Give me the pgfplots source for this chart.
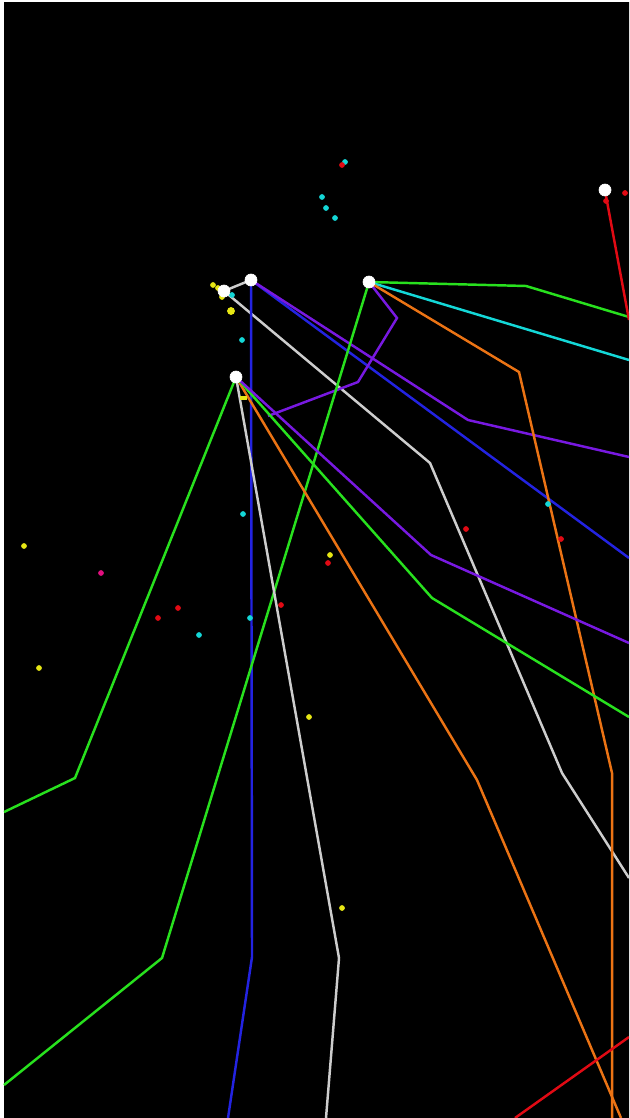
\documentclass[border=0pt]{standalone}
\usepackage{pgfplots}
\pgfplotsset{compat=1.18}
\definecolor{lgreen}{RGB}{40,225,30}
\definecolor{lcyan}{RGB}{20,215,215}
\definecolor{lorange}{RGB}{235,115,20}
\definecolor{lpurple}{RGB}{120,25,225}
\definecolor{lblue}{RGB}{35,35,225}
\definecolor{lgray}{RGB}{205,205,205}
\definecolor{lred}{RGB}{225,10,20}
\definecolor{lyellow}{RGB}{230,230,20}
\begin{document}
\begin{tikzpicture}
\begin{axis}[
  width=6.29cm, height=11.18cm, scale only axis,
  xmin=0, xmax=629, ymin=0, ymax=1118, y dir=reverse,
  hide axis, clip marker paths=true,
  every axis plot/.append style={line width=0.7pt, mark=none},
]
% page and black field
\addplot[fill=white, draw=none] coordinates {(0,0) (629,0) (629,1118) (0,1118)} -- cycle;
\addplot[fill=black, draw=none] coordinates {(4,2) (640,2) (640,1130) (4,1130)} -- cycle;

% from node B (224,291)
\addplot[lgray] coordinates {(251,280) (224,291) (430,463) (562,773) (629,878)};
% from node A (251,280)
\addplot[lblue] coordinates {(251,280) (252,957) (228,1118)};
\addplot[lblue] coordinates {(251,280) (629,558)};
\addplot[lpurple] coordinates {(251,280) (468,420) (629,457)};
% from node C (369,282)
\addplot[lgreen] coordinates {(369,282) (526,286) (629,317)};
\addplot[lcyan] coordinates {(369,282) (629,360)};
\addplot[lorange] coordinates {(369,282) (519,372) (612,773) (612,1118)};
\addplot[lpurple] coordinates {(369,282) (397,318) (358,382) (268,416)};
\addplot[lgreen] coordinates {(369,282) (162,958) (4,1085)};
% from node D (236,377)
\addplot[lgreen] coordinates {(236,377) (75,778) (4,812)};
\addplot[lgray] coordinates {(236,377) (339,958) (326,1118)};
\addplot[lorange] coordinates {(236,377) (477,780) (621,1118)};
\addplot[lgreen] coordinates {(236,377) (432,598) (629,717)};
\addplot[lpurple] coordinates {(236,377) (431,555) (629,643)};
\addplot[lyellow, line width=1.2pt] coordinates {(240,398) (247,398)};
% from node E (605,190)
\addplot[lred] coordinates {(606,196) (629,320)};
\addplot[lred] coordinates {(515,1118) (629,1037)};

% small dots
\addplot[only marks, mark=*, mark size=0.7pt, line width=0.2pt, lcyan] coordinates {
  (345,162) (322,197) (326,208) (335,218) (232,295) (242,340)
  (243,514) (199,635) (250,618) (548,504)};
\addplot[only marks, mark=*, mark size=0.7pt, line width=0.2pt, lred] coordinates {
  (342,165) (158,618) (178,608) (281,605) (328,563) (466,529) (561,539) (625,193) (606,201)};
\addplot[only marks, mark=*, mark size=0.7pt, line width=0.2pt, lyellow] coordinates {
  (213,285) (218,288) (222,297) (24,546) (39,668) (330,555) (309,717) (342,908)};
\addplot[only marks, mark=*, mark size=1.0pt, line width=0.2pt, lyellow] coordinates {(231,311)};
\addplot[only marks, mark=*, mark size=0.7pt, line width=0.2pt, magenta!80!purple] coordinates {(101,573)};

% nodes
\addplot[only marks, mark=*, mark size=1.7pt, line width=0.2pt, white, mark options={fill=white, draw=white}]
  coordinates {(251,280) (224,291) (369,282) (236,377) (605,190)};
\end{axis}
\pgfresetboundingbox
\useasboundingbox (current axis.south west) rectangle (current axis.north east);
\end{tikzpicture}
\end{document}
